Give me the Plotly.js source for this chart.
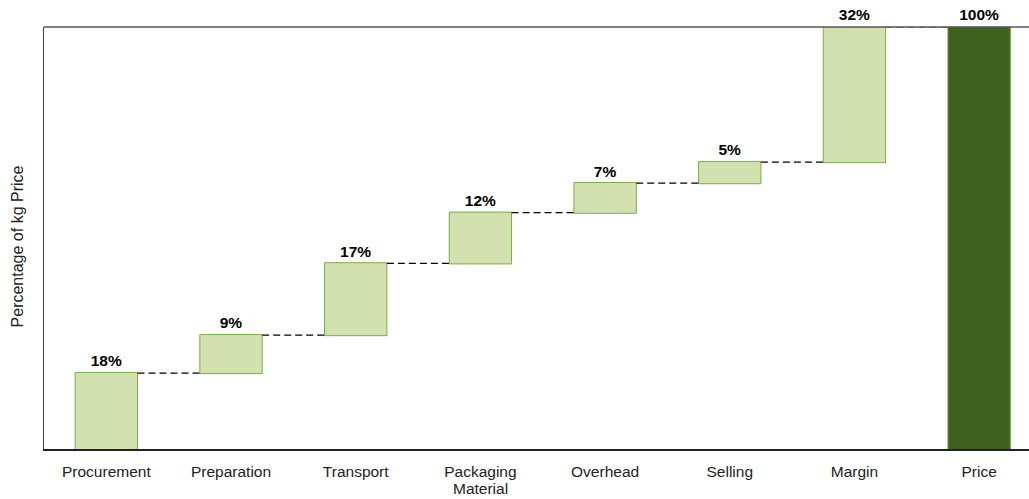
<!DOCTYPE html>
<html>
<head>
<meta charset="utf-8">
<script src="https://cdn.plot.ly/plotly-3.0.1.min.js"></script>
<style>html,body{margin:0;padding:0;background:#fff;}#chart{width:1029px;height:499px;}</style>
</head>
<body>
<div id="chart"></div>
<script>
const categories = ["Procurement", "Preparation", "Transport", "Packaging Material", "Overhead", "Selling", "Margin", "Price"];
const tickLabels = ["Procurement", "Preparation", "Transport", "Packaging", "Overhead", "Selling", "Margin", "Price"];
const tickLabelsLine2 = ["", "", "", "Material", "", "", "", ""];
const values = [18, 9, 17, 12, 7, 5, 32, 100];
const measures = ["relative", "relative", "relative", "relative", "relative", "relative", "relative", "total"];
const labels = ["18%", "9%", "17%", "12%", "7%", "5%", "32%", "100%"];
const yTitle = "Percentage of kg Price";

const FONT = "Liberation Sans, Arial, sans-serif";

const trace = {
  type: "waterfall",
  x: categories,
  y: values.map((v, i) => measures[i] === "total" ? 0 : v),
  measure: measures,
  text: labels,
  textposition: "outside",
  textfont: {family: FONT, size: 15.5, color: "#000", weight: "bold"},
  cliponaxis: false,
  width: 0.5,
  increasing: {marker: {color: "#d3e1b0", line: {color: "#7aac47", width: 1}}},
  decreasing: {marker: {color: "#d3e1b0", line: {color: "#7aac47", width: 1}}},
  totals: {marker: {color: "#3f6120", line: {color: "#6a9a3a", width: 1}}},
  connector: {mode: "between", line: {color: "#000", width: 1.2, dash: "7px,4px"}},
  hoverinfo: "none",
  showlegend: false
};

const annotations = [];
tickLabelsLine2.forEach((t, i) => {
  if (t) annotations.push({
    x: categories[i], xref: "x", y: 0, yref: "paper", yshift: -31,
    yanchor: "top", text: t, showarrow: false, borderpad: 0, borderwidth: 0,
    font: {family: FONT, size: 15.5, color: "#222"}
  });
});
annotations.push({
  x: 0, xref: "paper", xshift: -27, y: 48, yref: "y",
  xanchor: "center", yanchor: "middle", textangle: -90,
  text: yTitle, showarrow: false,
  font: {family: FONT, size: 16, color: "#222"}
});

const layout = {
  width: 1029, height: 499,
  margin: {l: 44, r: 0, t: 27, b: 50},
  paper_bgcolor: "#fff", plot_bgcolor: "#fff",
  font: {family: FONT, size: 15, color: "#222"},
  xaxis: {
    type: "category",
    range: [-0.5, 7.4],
    tickvals: categories,
    ticktext: tickLabels,
    showline: true, linecolor: "#222", linewidth: 1.5,
    showgrid: false, zeroline: false,
    ticks: "",
    ticklabelstandoff: 8,
    tickfont: {size: 15.5, color: "#222"}
  },
  yaxis: {
    range: [0, 100],
    showline: true, linecolor: "#444", linewidth: 1.5,
    showgrid: false, zeroline: false,
    showticklabels: false, ticks: ""
  },
  annotations: annotations,
  shapes: [{type: "line", xref: "paper", yref: "paper", x0: 0, x1: 1, y0: 1, y1: 1, line: {color: "#555", width: 1.5}}]
};

Plotly.newPlot("chart", [trace], layout, {displayModeBar: false, staticPlot: true});
</script>
</body>
</html>
